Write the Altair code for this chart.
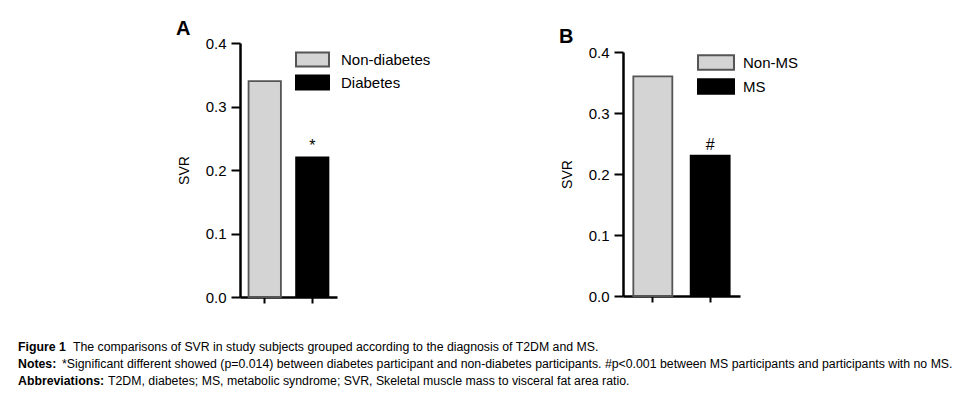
import altair as alt
import pandas as pd

# ---- data ----
groups_a = ["Non-diabetes", "Diabetes"]
svr_a = [0.34, 0.22]
marks_a = ["", "*"]

groups_b = ["Non-MS", "MS"]
svr_b = [0.36, 0.23]
marks_b = ["", "#"]

y_ticks = [0.0, 0.1, 0.2, 0.3, 0.4]
fills = ["#d4d4d4", "#000000"]
strokes = ["#555555", "#000000"]

caption_bold = ["Figure 1", "Notes:", "Abbreviations:"]
caption_text = [
    "The comparisons of SVR in study subjects grouped according to the diagnosis of T2DM and MS.",
    "*Significant different showed (p=0.014) between diabetes participant and non-diabetes participants. #p<0.001 between MS participants and participants with no MS.",
    "T2DM, diabetes; MS, metabolic syndrome; SVR, Skeletal muscle mass to visceral fat area ratio.",
]

FONT = "Liberation Sans"
CAP_FONT = "Liberation Sans"


def panel(letter, groups, values, marks, width, height, top, legend_x, legend_y,
          sym_size, sym_path, label_off, title_dx, title_dy):
    df = pd.DataFrame({"group": groups, "svr": values, "mark": marks})
    base = alt.Chart(df)
    x = alt.X(
        "group:N",
        sort=groups,
        scale=alt.Scale(paddingInner=0.32, paddingOuter=0.18),
        axis=alt.Axis(labels=False, title=None, ticks=True, tickSize=6, tickWidth=2,
                      domainWidth=2.5, domainColor="black", tickColor="black"),
    )
    y = alt.Y(
        "svr:Q",
        scale=alt.Scale(domain=[0, 0.4], range=[height, top], nice=False, zero=True),
        axis=alt.Axis(values=y_ticks, format=".1f", title="SVR", grid=False,
                      tickSize=9, tickWidth=2, domainWidth=2.5, domainColor="black",
                      tickColor="black", labelFontSize=15, labelFont=FONT, labelColor="black",
                      labelPadding=5, titleFont=FONT, titleFontSize=14, titleFontWeight="normal",
                      titleColor="black", titlePadding=14),
    )
    leg = alt.Legend(
        title=None, orient="none", legendX=legend_x, legendY=legend_y,
        symbolType=sym_path, symbolSize=sym_size, symbolStrokeWidth=2,
        symbolOpacity=1, labelFontSize=15, labelFont=FONT, labelColor="black",
        labelOffset=label_off, rowPadding=0, padding=0,
    )
    bars = base.mark_bar(strokeWidth=1.8, opacity=1).encode(
        x=x,
        y=y,
        fill=alt.Fill("group:N", sort=groups, scale=alt.Scale(domain=groups, range=fills), legend=leg),
        stroke=alt.Stroke("group:N", sort=groups, scale=alt.Scale(domain=groups, range=strokes), legend=leg),
    )
    text = base.mark_text(baseline="bottom", dy=-3, fontSize=16, font=FONT, color="black").encode(
        x=alt.X("group:N", sort=groups),
        y=alt.Y("svr:Q"),
        text="mark:N",
    )
    return alt.layer(bars, text).properties(
        width=width,
        height=height,
        title=alt.TitleParams(letter, anchor="start", frame="group", fontSize=20, fontWeight="bold",
                              font=FONT, color="black", dx=title_dx, dy=title_dy, offset=0),
    )


chart_a = panel("A", groups_a, svr_a, marks_a, 97, 254, 0, 61, 5,
                441, "M-1.571,-0.667H1.571V0.667H-1.571Z", 17, -64, 3)
chart_b = panel("B", groups_b, svr_b, marks_b, 117, 253, 9, 81, 7.5,
                484, "M-1.636,-0.66H1.636V0.66H-1.636Z", 15, -64, 4)

cap_x_bold = -222
cap_x_text = [-167, -178, -132]
cap_y = [48, 65, 82]
CAP_SIZE = 12.3
layers = []
for i in range(3):
    layers.append(
        alt.Chart(pd.DataFrame({"t": [caption_bold[i]]})).mark_text(
            align="left", baseline="alphabetic", fontWeight="bold", fontSize=CAP_SIZE, font=CAP_FONT, color="black"
        ).encode(x=alt.value(cap_x_bold), y=alt.value(cap_y[i]), text="t:N")
    )
    layers.append(
        alt.Chart(pd.DataFrame({"t": [caption_text[i]]})).mark_text(
            align="left", baseline="alphabetic", fontSize=CAP_SIZE, font=CAP_FONT, color="black"
        ).encode(x=alt.value(cap_x_text[i]), y=alt.value(cap_y[i]), text="t:N")
    )
caption = alt.layer(*layers).properties(width=100, height=90)

panels = alt.hconcat(chart_a, chart_b, spacing=286, bounds="flush").resolve_scale(
    fill="independent", stroke="independent"
).resolve_legend(fill="independent", stroke="independent")

chart = alt.vconcat(
    panels,
    caption,
    spacing=260,
    bounds="flush",
).properties(padding={"left": 10, "top": 11, "right": 0, "bottom": 0}).configure_view(strokeWidth=0)

chart.save("out.html", embed_options={"renderer": "svg", "actions": False})
